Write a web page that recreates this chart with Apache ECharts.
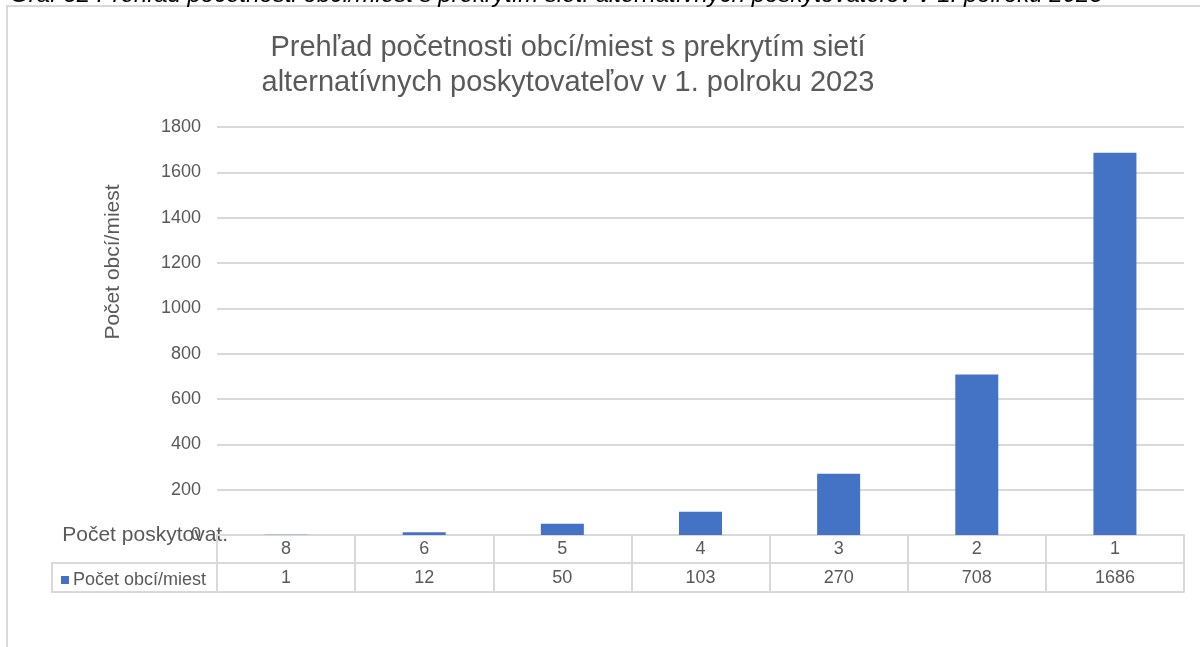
<!DOCTYPE html>
<html>
<head>
<meta charset="utf-8">
<title>Prehľad početnosti obcí/miest</title>
<script src="https://cdn.jsdelivr.net/npm/echarts@6/dist/echarts.min.js"></script>
<style>
  html, body { margin: 0; padding: 0; background: #fff; }
  #chart { width: 1200px; height: 647px; }
</style>
</head>
<body>
<div id="chart"></div>
<script>
// počet poskytovateľov (kategórie osi x)
const providers = ["8", "6", "5", "4", "3", "2", "1"];
// počet obcí/miest
const counts = [1, 12, 50, 103, 270, 708, 1686];
const yTicks = [0, 200, 400, 600, 800, 1000, 1200, 1400, 1600, 1800];

const seriesName = "Počet obcí/miest";
const font = "Liberation Sans, Arial, sans-serif";
const grey = "#595959";
const lineGrey = "#D9D9D9";

const chart = echarts.init(document.getElementById("chart"));

const option = {
    backgroundColor: "#fff",
    animation: false,
    textStyle: { fontFamily: font },
    title: {
        text: "Prehľad početnosti obcí/miest s prekrytím sietí\nalternatívnych poskytovateľov v 1. polroku 2023",
        left: 563,
        top: 25,
        textAlign: "center",
        textStyle: {
            fontFamily: font,
            fontSize: 29,
            fontWeight: "normal",
            color: grey,
            lineHeight: 35,
        },
    },
    legend: {
        data: [seriesName],
        left: 56,
        top: 566,
        icon: "rect",
        itemWidth: 8,
        itemHeight: 8,
        itemGap: 4,
        textStyle: { fontFamily: font, fontSize: 18, color: grey, padding: [0, 0, 0, -1] },
    },
    grid: {
        left: 217,
        right: 16,
        top: 127,
        bottom: 112,
        containLabel: false,
    },
    xAxis: [
        {
            // riadok tabuľky s kategóriami
            type: "category",
            data: providers,
            name: "Počet poskytovat.",
            nameLocation: "start",
            nameGap: -11,
            nameMoveOverlap: false,
            nameTextStyle: { fontFamily: font, fontSize: 21, color: grey, verticalAlign: "middle" },
            axisLine: { lineStyle: { color: lineGrey, width: 2 } },
            axisTick: { show: true, alignWithLabel: false, length: 57, lineStyle: { color: lineGrey, width: 2 } },
            axisLabel: { fontFamily: font, fontSize: 18, color: grey, margin: 5 },
        },
        {
            // riadok tabuľky s hodnotami
            type: "category",
            position: "bottom",
            offset: 28,
            data: counts.map(String),
            axisLine: { lineStyle: { color: lineGrey, width: 2 } },
            axisTick: { show: false },
            axisLabel: { fontFamily: font, fontSize: 18, color: grey, margin: 6 },
        },
        {
            // spodná čiara tabuľky
            type: "category",
            position: "bottom",
            offset: 57,
            data: providers,
            axisLine: { lineStyle: { color: lineGrey, width: 2 } },
            axisTick: { show: false },
            axisLabel: { show: false },
        },
    ],
    yAxis: {
        type: "value",
        min: yTicks[0],
        max: yTicks[yTicks.length - 1],
        interval: 200,
        name: seriesName,
        nameLocation: "middle",
        nameGap: 93,
        nameRotate: 90,
        nameMoveOverlap: false,
        nameTextStyle: { fontFamily: font, fontSize: 21, color: grey, padding: [0, 0, 0, 138] },
        axisLine: { show: false },
        axisTick: { show: false },
        axisLabel: { fontFamily: font, fontSize: 18, color: grey, margin: 16, formatter: v => String(v) },
        splitLine: { lineStyle: { color: lineGrey, width: 2 } },
    },
    series: [
        {
            name: seriesName,
            type: "bar",
            data: counts,
            barWidth: 43,
            itemStyle: { color: "#4472C4" },
        },
    ],
    graphic: [
        {
            // okraj oblasti grafu
            type: "rect",
            shape: { x: 7, y: 6, width: 1300, height: 800 },
            style: { fill: "none", stroke: lineGrey, lineWidth: 2 },
            silent: true,
        },
        {
            // bunka legendy v tabuľke
            type: "rect",
            shape: { x: 52, y: 563, width: 165, height: 29 },
            style: { fill: "none", stroke: lineGrey, lineWidth: 2 },
            silent: true,
        },
        {
            // odrezaný popis grafu nad obrázkom
            type: "text",
            x: 10,
            y: 7,
            style: {
                text: "Graf 32 Prehľad početnosti obcí/miest s prekrytím sietí alternatívnych poskytovateľov v 1. polroku 2023",
                font: "italic 24px " + font,
                fill: "#000",
                verticalAlign: "bottom",
            },
            silent: true,
        },
    ],
};

chart.setOption(option);
</script>
</body>
</html>
